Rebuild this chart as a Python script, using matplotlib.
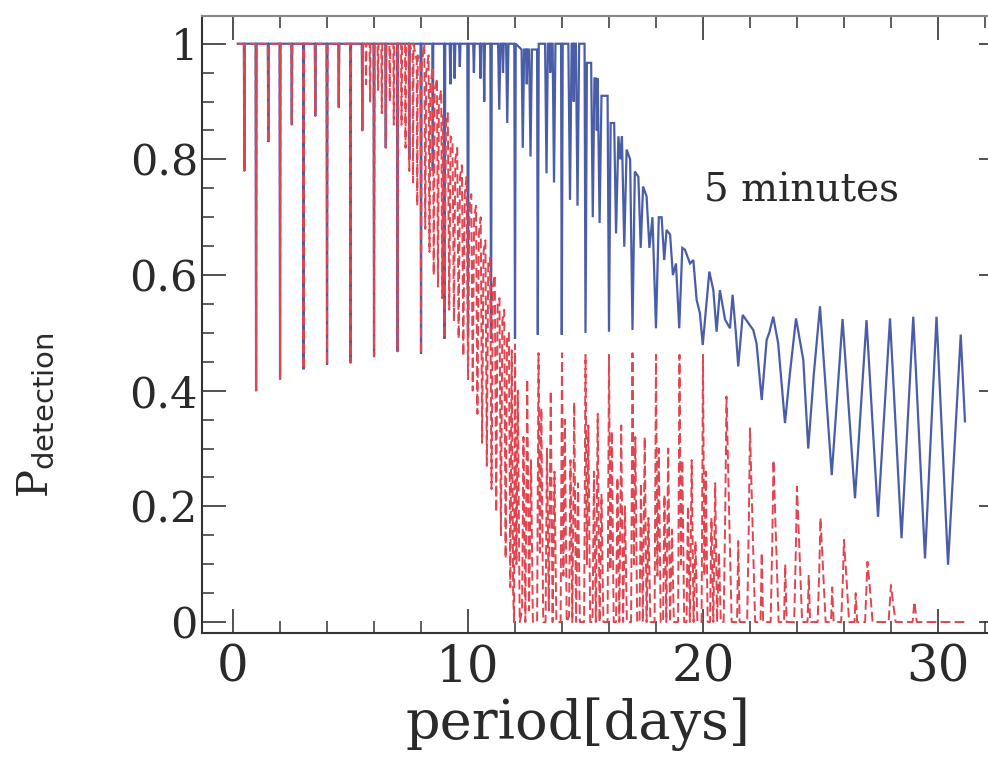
import matplotlib
matplotlib.use("Agg")
import matplotlib.pyplot as plt
from matplotlib.ticker import MultipleLocator

# ---------------- data ----------------
blue_early_x = [0.20, 0.46, 0.48, 0.50, 0.96, 0.98, 1.00, 1.48, 1.50, 1.52, 1.98, 2.00, 2.02,
                2.48, 2.50, 2.52, 2.98, 3.00, 3.02, 3.48, 3.50, 3.52, 3.98, 4.00, 4.02,
                4.48, 4.50, 4.52, 4.98, 5.00, 5.02, 5.48, 5.50, 5.52, 5.98, 6.00, 6.02,
                6.48, 6.50, 6.52, 6.98, 7.00, 7.02, 7.48, 7.50, 7.52, 7.98, 8.00, 8.02,
                8.48, 8.50, 8.52]
blue_early_y = [1.0, 1.0, 0.78, 1.0, 1.0, 0.40, 1.0, 1.0, 0.83, 1.0, 1.0, 0.42, 1.0,
                1.0, 0.86, 1.0, 1.0, 0.437, 1.0, 1.0, 0.875, 1.0, 1.0, 0.445, 1.0,
                1.0, 0.89, 1.0, 1.0, 0.448, 1.0, 1.0, 0.85, 1.0, 1.0, 0.459, 1.0,
                1.0, 0.82, 1.0, 1.0, 0.468, 1.0, 1.0, 0.80, 1.0, 1.0, 0.464, 1.0,
                1.0, 0.78, 1.0]

blue_mid_x = [8.98, 9.00, 9.03, 9.22, 9.25, 9.28, 9.40, 9.43, 9.46, 9.62, 9.65, 9.68, 9.97,
              10.00, 10.03, 10.22, 10.25, 10.28, 10.50, 10.53, 10.56, 10.66, 10.69, 10.72, 10.95,
              10.98, 11.01, 11.28, 11.33, 11.38, 11.46, 11.49, 11.52, 11.62, 11.67, 11.72, 11.97,
              12.00, 12.03, 12.28, 12.33, 12.39, 12.47, 12.50, 12.53, 12.60, 12.66, 12.72, 12.94,
              12.97, 13.01, 13.28, 13.34, 13.40, 13.47, 13.50, 13.53, 13.60, 13.66, 13.72, 13.96,
              13.99, 14.03, 14.27, 14.34, 14.41, 14.47, 14.50, 14.53, 14.59, 14.66, 14.73, 14.96,
              15.00, 15.06, 15.24, 15.31, 15.38, 15.45, 15.48, 15.52, 15.60, 15.68, 15.94,
              16.00, 16.07, 16.22, 16.30, 16.40, 16.48, 16.55, 16.65, 16.75, 16.90,
              17.00, 17.10, 17.25, 17.35, 17.45, 17.60, 17.72, 17.85,
              18.00, 18.12, 18.24, 18.35, 18.45, 18.60, 18.72, 18.85,
              18.99, 19.12, 19.23, 19.45, 19.59, 19.73, 19.87, 19.99]
blue_mid_y = [1.0, 0.49, 1.0, 1.0, 0.93, 1.0, 1.0, 0.94, 1.0, 1.0, 0.96, 1.0, 1.0,
              0.495, 1.0, 1.0, 0.95, 1.0, 1.0, 0.94, 1.0, 1.0, 0.90, 1.0, 1.0,
              0.49, 1.0, 1.0, 0.886, 1.0, 1.0, 0.95, 1.0, 1.0, 0.863, 1.0, 1.0,
              0.49, 1.0, 0.99, 0.82, 0.99, 0.99, 0.93, 0.99, 0.99, 0.805, 0.99, 0.99,
              0.497, 1.0, 1.0, 0.776, 1.0, 1.0, 0.95, 1.0, 1.0, 0.76, 1.0, 1.0,
              0.497, 1.0, 1.0, 0.73, 1.0, 1.0, 0.90, 1.0, 1.0, 0.72, 1.0, 1.0,
              0.50, 0.967, 0.967, 0.70, 0.94, 0.94, 0.85, 0.94, 0.69, 0.91, 0.91,
              0.502, 0.863, 0.863, 0.672, 0.84, 0.80, 0.84, 0.649, 0.817, 0.80,
              0.505, 0.779, 0.77, 0.647, 0.753, 0.736, 0.647, 0.70,
              0.508, 0.70, 0.70, 0.626, 0.678, 0.67, 0.60, 0.62,
              0.508, 0.647, 0.644, 0.62, 0.626, 0.557, 0.534, 0.479]

blue_late_x = [20.27, 20.44, 20.58, 20.72, 20.94, 21.15, 21.26, 21.40, 21.50, 21.69,
               21.93, 22.14, 22.28, 22.50, 22.71, 22.82, 22.99, 23.20, 23.49, 23.70,
               23.96, 24.27, 24.48, 24.72, 24.98, 25.48, 25.94, 26.47, 26.96, 27.45,
               27.96, 28.45, 28.95, 29.45, 29.94, 30.43, 30.97, 31.15]
blue_late_y = [0.606, 0.574, 0.502, 0.574, 0.523, 0.508, 0.566, 0.50, 0.442, 0.531,
               0.517, 0.505, 0.482, 0.384, 0.488, 0.50, 0.528, 0.482, 0.344, 0.43,
               0.525, 0.453, 0.30, 0.43, 0.546, 0.254, 0.524, 0.214, 0.522, 0.182,
               0.525, 0.145, 0.528, 0.11, 0.528, 0.099, 0.497, 0.347]

red_early_x = [0.20, 0.46, 0.48, 0.50, 0.96, 0.98, 1.00, 1.48, 1.50, 1.52, 1.98, 2.00, 2.02,
               2.48, 2.50, 2.52, 2.98, 3.00, 3.02, 3.48, 3.50, 3.52, 3.98, 4.00, 4.02,
               4.48, 4.50, 4.52, 4.98, 5.00, 5.02, 5.48, 5.50, 5.52, 5.64, 5.66, 5.68,
               5.81, 5.83, 5.85, 5.98, 6.00, 6.02, 6.15, 6.17, 6.19, 6.31, 6.33, 6.35,
               6.48, 6.50, 6.52]
red_early_y = [1.0, 1.0, 0.78, 1.0, 1.0, 0.40, 1.0, 1.0, 0.83, 1.0, 1.0, 0.42, 1.0,
               1.0, 0.86, 1.0, 1.0, 0.437, 1.0, 1.0, 0.875, 1.0, 1.0, 0.445, 1.0,
               1.0, 0.89, 1.0, 1.0, 0.448, 1.0, 1.0, 0.85, 1.0, 1.0, 0.93, 1.0,
               1.0, 0.90, 1.0, 1.0, 0.459, 1.0, 1.0, 0.92, 1.0, 1.0, 0.88, 1.0,
               1.0, 0.82, 1.0]

red_band_x = [6.65, 6.67, 6.69, 6.82, 6.84, 6.86, 6.98, 7.00, 7.02, 7.15, 7.17, 7.19,
              7.32, 7.34, 7.36, 7.48, 7.50, 7.52, 7.64, 7.66, 7.68, 7.82, 7.84, 7.86,
              7.98, 8.00, 8.02, 8.14, 8.18, 8.22, 8.32, 8.36, 8.40, 8.50, 8.54, 8.58,
              8.68, 8.72, 8.76, 8.86, 8.90, 8.94, 9.00, 9.06, 9.14, 9.20, 9.26, 9.34,
              9.40, 9.46, 9.54, 9.60, 9.66, 9.74, 9.80, 9.86, 9.94, 10.00, 10.06, 10.14,
              10.20, 10.26, 10.34, 10.40, 10.46, 10.54, 10.60, 10.66, 10.74, 10.80, 10.86,
              10.94, 11.00, 11.06, 11.14, 11.20, 11.26, 11.34, 11.40, 11.46, 11.54, 11.60,
              11.66, 11.74, 11.80, 11.86, 11.92, 11.96]
red_band_y = [1.0, 0.90, 1.0, 1.0, 0.86, 1.0, 1.0, 0.468, 1.0, 1.0, 0.86, 1.0,
              1.0, 0.82, 1.0, 1.0, 0.78, 1.0, 0.98, 0.76, 1.0, 0.97, 0.72, 0.98,
              0.97, 0.464, 0.96, 1.0, 0.68, 0.95, 0.98, 0.64, 0.93, 0.96, 0.60, 0.92,
              0.94, 0.58, 0.90, 0.92, 0.56, 0.88, 0.49, 0.86, 0.88, 0.54, 0.84, 0.83,
              0.52, 0.80, 0.82, 0.49, 0.77, 0.79, 0.46, 0.74, 0.77, 0.42, 0.72, 0.74,
              0.40, 0.70, 0.72, 0.36, 0.67, 0.70, 0.31, 0.64, 0.66, 0.27, 0.62,
              0.63, 0.23, 0.58, 0.60, 0.19, 0.55, 0.56, 0.15, 0.52, 0.54, 0.11,
              0.49, 0.50, 0.06, 0.47, 0.05, 0.0]

red_mid_x = [12.00, 12.06, 12.12, 12.20, 12.30, 12.36, 12.44, 12.52, 12.60, 12.68, 12.76, 12.94,
             13.00, 13.06, 13.12, 13.20, 13.30, 13.36, 13.44, 13.52, 13.60, 13.68, 13.76, 13.94,
             14.00, 14.06, 14.12, 14.20, 14.30, 14.36, 14.44, 14.52, 14.60, 14.68, 14.76, 14.94,
             15.00, 15.06, 15.12, 15.20, 15.30, 15.36, 15.44, 15.52, 15.60, 15.68, 15.76, 15.94,
             16.00, 16.06, 16.12, 16.20, 16.30, 16.36, 16.44, 16.52, 16.60, 16.68, 16.76, 16.94,
             17.00, 17.06, 17.12, 17.20, 17.30, 17.36, 17.44, 17.52, 17.60, 17.68, 17.76, 17.94,
             18.00, 18.06, 18.12, 18.20, 18.30, 18.36, 18.44, 18.52, 18.60, 18.68, 18.76, 18.94,
             19.00, 19.06, 19.12, 19.20, 19.30, 19.36, 19.44, 19.52, 19.60, 19.68, 19.76, 19.94,
             20.00, 20.06, 20.12, 20.20, 20.30, 20.36, 20.44, 20.52, 20.60, 20.68, 20.76, 20.88]
red_mid_y = [0.48, 0.10, 0.40, 0.0, 0.02, 0.32, 0.0, 0.42, 0.02, 0.28, 0.0, 0.0,
             0.465, 0.12, 0.37, 0.0, 0.0, 0.30, 0.02, 0.40, 0.0, 0.26, 0.0, 0.0,
             0.465, 0.08, 0.35, 0.0, 0.01, 0.28, 0.0, 0.38, 0.0, 0.24, 0.0, 0.0,
             0.462, 0.10, 0.34, 0.0, 0.0, 0.26, 0.0, 0.36, 0.0, 0.22, 0.0, 0.0,
             0.462, 0.09, 0.33, 0.0, 0.0, 0.25, 0.0, 0.34, 0.0, 0.20, 0.0, 0.0,
             0.465, 0.10, 0.32, 0.0, 0.0, 0.24, 0.0, 0.32, 0.0, 0.18, 0.0, 0.0,
             0.462, 0.08, 0.30, 0.0, 0.0, 0.22, 0.0, 0.30, 0.0, 0.16, 0.0, 0.0,
             0.462, 0.10, 0.28, 0.0, 0.0, 0.20, 0.0, 0.28, 0.0, 0.14, 0.0, 0.0,
             0.462, 0.08, 0.26, 0.0, 0.0, 0.18, 0.0, 0.24, 0.0, 0.12, 0.0, 0.0]

red_late_x = [20.95, 21.00, 21.10, 21.22, 21.45, 21.50, 21.56, 21.88,
              21.95, 22.00, 22.10, 22.22, 22.45, 22.50, 22.56, 22.88,
              22.95, 23.00, 23.10, 23.22, 23.45, 23.50, 23.56, 23.88,
              23.95, 24.00, 24.10, 24.22, 24.45, 24.50, 24.56, 24.88,
              24.95, 25.00, 25.10, 25.22, 25.45, 25.50, 25.56, 25.88,
              25.95, 26.00, 26.10, 26.22, 26.45, 26.50, 26.56, 26.90,
              27.00, 27.10, 27.22, 27.90, 28.00, 28.10, 28.20, 28.92,
              29.00, 29.10, 31.20]
red_late_y = [0.20, 0.39, 0.21, 0.0, 0.0, 0.14, 0.0, 0.0,
              0.17, 0.335, 0.18, 0.0, 0.0, 0.12, 0.0, 0.0,
              0.14, 0.28, 0.15, 0.0, 0.0, 0.10, 0.0, 0.0,
              0.12, 0.234, 0.13, 0.0, 0.0, 0.08, 0.0, 0.0,
              0.09, 0.18, 0.10, 0.0, 0.0, 0.06, 0.0, 0.0,
              0.07, 0.142, 0.08, 0.0, 0.0, 0.05, 0.0, 0.0,
              0.104, 0.06, 0.0, 0.0, 0.064, 0.03, 0.0, 0.0,
              0.035, 0.0, 0.0]

x_major_ticks = [0, 10, 20, 30]
y_major_ticks = [0, 0.2, 0.4, 0.6, 0.8, 1]
y_tick_labels = ["0", "0.2", "0.4", "0.6", "0.8", "1"]

blue_x = blue_early_x + blue_mid_x + blue_late_x
blue_y = blue_early_y + blue_mid_y + blue_late_y
red_x = red_early_x + red_band_x + red_mid_x + red_late_x
red_y = red_early_y + red_band_y + red_mid_y + red_late_y

# ---------------- figure ----------------
plt.rcParams['mathtext.fontset'] = 'dejavuserif'
fig = plt.figure(figsize=(9.88, 7.58), dpi=100)
ax = fig.add_axes([0.2045, 0.1649, 0.8107, 0.8140])

ax.plot(blue_x, blue_y, color='#4a5da8', lw=1.6, solid_joinstyle='miter')
ax.plot(red_x, red_y, color='#e04550', lw=1.4, linestyle=(0, (5, 2.2)))

ax.set_xlim(-1.32, 32.77)
ax.set_ylim(-0.019, 1.048)

ax.xaxis.set_minor_locator(MultipleLocator(2))
ax.yaxis.set_minor_locator(MultipleLocator(0.05))
ax.set_yticks(y_major_ticks)
ax.set_yticklabels(y_tick_labels)
ax.set_xticks(x_major_ticks)
ax.set_xticklabels([str(v) for v in x_major_ticks])

ax.tick_params(which='both', direction='in', top=True, right=True, color='#333333')
ax.tick_params(which='major', length=17, width=1.2)
ax.tick_params(which='minor', length=8.5, width=1.1)
ax.tick_params(axis='y', which='major', labelsize=31, pad=3)
ax.tick_params(axis='x', which='major', labelsize=36, pad=7)
for lab in ax.get_xticklabels() + ax.get_yticklabels():
    lab.set_family('DejaVu Serif')
    lab.set_color('#2a2a2a')
for s in ax.spines.values():
    s.set_linewidth(1.5)
    s.set_color('#333333')
ax.spines['top'].set_color('#888888')

ax.set_xlabel('period[days]', family='DejaVu Serif', fontsize=39, color='#2a2a2a')
ax.xaxis.set_label_coords((578 - 202) / 801, -0.105)
ax.xaxis.label.set_va('top')
fig.text(35 / 988, 1 - 415 / 758, r'P$_{\mathsf{detection}}$', rotation=90,
         ha='center', va='center', fontsize=30, color='#2a2a2a', family='DejaVu Serif')
ax.text(24.2, 0.745, '5 minutes', family='DejaVu Serif', fontsize=28, color='#2a2a2a',
        ha='center', va='center')

fig.savefig('out.png', dpi=100)
